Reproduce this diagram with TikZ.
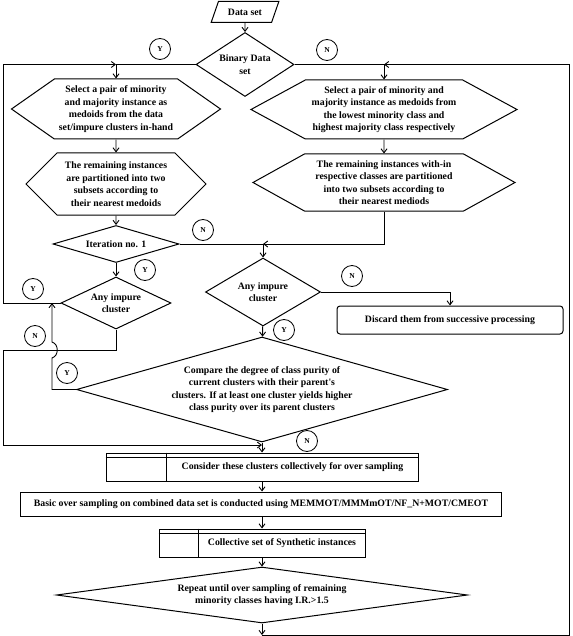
\documentclass[tikz,border=0pt]{standalone}
\usepackage{fontspec}
\setmainfont{Liberation Serif}
\usetikzlibrary{shapes.geometric, shapes.symbols, arrows.meta}
\newcommand{\flowfont}{\fontsize{9.8}{12.5}\selectfont\bfseries}
\tikzstyle{process} = [
    rectangle,
    draw=black,
    line width=1pt,
    inner sep=2pt,
    align=center,
    font=\flowfont
]
\tikzstyle{decision} = [
    diamond,
    draw=black,
    line width=1pt,
    inner sep=0pt,
    align=center,
    font=\flowfont
]
\tikzstyle{hexa} = [
    signal,
    signal to=west and east,
    draw=black,
    line width=1pt,
    inner sep=1pt,
    align=center,
    font=\flowfont
]
\tikzstyle{io} = [
    trapezium,
    trapezium left angle=67,
    trapezium right angle=113,
    trapezium stretches=true,
    draw=black,
    line width=1pt,
    font=\flowfont
]
\tikzstyle{tag} = [
    circle,
    draw=black,
    line width=0.8pt,
    inner sep=0pt,
    minimum size=21pt,
    font=\fontsize{7.5}{8}\selectfont\bfseries
]
\tikzstyle{line} = [draw=black, line width=0.9pt]
\tikzstyle{arrow} = [line, -{Straight Barb[length=4pt,width=6pt]}]

\begin{document}
\begin{tikzpicture}[x=1pt, y=-1pt]
    \useasboundingbox (0,0) rectangle (572,636);
    % start and first decision
    \node[io, minimum width=68pt, minimum height=21pt] (data) at (245,12) {Data set};
    \node[decision, shape aspect=1.53, minimum width=98pt, minimum height=64pt] (binary) at (245,64.5) {Binary Data\\set};
    \node[tag] (ybin) at (160,49) {Y};
    \node[tag] (nbin) at (327,50) {N};

    % two branches of hexagons
    \node[hexa, signal pointer angle=70, minimum width=209pt, minimum height=60pt] (lhexa) at (116,109)
        {Select a pair of minority\\and majority instance as\\medoids from the data\\set/impure clusters in-hand};
    \node[hexa, signal pointer angle=90, minimum width=180pt, minimum height=62pt] (lhexb) at (116,184)
        {The remaining instances\\are partitioned into two\\subsets according to\\their nearest medoids};
    \node[hexa, signal pointer angle=57, minimum width=266pt, minimum height=59pt] (rhexa) at (384,109.5)
        {Select a pair of minority and\\majority instance as medoids from\\the lowest minority class and\\highest majority class respectively};
    \node[hexa, signal pointer angle=58, minimum width=262pt, minimum height=57pt] (rhexb) at (384,182.5)
        {The remaining instances with-in\\respective classes are partitioned\\into two subsets according to\\their nearest mediods};

    % iteration and impurity checks
    \node[decision, shape aspect=3.4, minimum width=126pt, minimum height=37pt] (iter) at (116,244) {Iteration no. 1};
    \node[tag] (yiter) at (145,270) {Y};
    \node[tag] (niter) at (203,230) {N};
    \node[decision, shape aspect=2.1, minimum width=110pt, minimum height=52pt] (limp) at (116,303) {Any impure\\cluster};
    \node[tag] (ylimp) at (33,289) {Y};
    \node[tag] (nlimp) at (35,336) {N};
    \node[decision, shape aspect=1.7, minimum width=115pt, minimum height=68pt] (rimp) at (263,292) {Any impure\\cluster};
    \node[tag] (nrimp) at (352,276) {N};
    \node[tag] (yrimp) at (284,330) {Y};
    \node[process, rounded corners=3pt, minimum width=226pt, minimum height=28pt] (discard) at (450,320)
        {Discard them from successive processing};

    % purity comparison
    \node[decision, shape aspect=3.53, minimum width=371pt, minimum height=105pt] (cmp) at (262,389.5)
        {Compare the degree of class purity of\\current clusters with their parent\textquotesingle s\\clusters. If at least one cluster yields higher\\class purity over its parent clusters};
    \node[tag] (ycmp) at (67,373) {Y};
    \node[tag] (ncmp) at (307,441) {N};

    % over sampling
    \node[process, minimum width=312pt, minimum height=28pt] (cons) at (262,467)
        {\hspace*{61pt}Consider these clusters collectively for over sampling};
    \draw[line] ([yshift=-5pt]cons.north west) -- ([yshift=-5pt]cons.north east);
    \draw[line] ([xshift=61pt]cons.north west) -- ([xshift=61pt]cons.south west);
    \node[process, minimum width=481pt, minimum height=24pt] (basic) at (261,504)
        {Basic over sampling on combined data set is conducted using MEMMOT/MMMmOT/NF\_N+MOT/CMEOT};
    \node[process, minimum width=206pt, minimum height=28pt] (coll) at (262,543)
        {\hspace*{40pt}Collective set of Synthetic instances};
    \draw[line] ([yshift=-5pt]coll.north west) -- ([yshift=-5pt]coll.north east);
    \draw[line] ([xshift=40pt]coll.north west) -- ([xshift=40pt]coll.south west);
    \node[decision, shape aspect=7.3, minimum width=411pt, minimum height=56pt] (rep) at (262,595)
        {Repeat until over sampling of remaining\\minority classes having I.R.>1.5};

    % junctions
    \coordinate (jl) at (116,64.5);
    \coordinate (jr) at (384,64.5);
    \coordinate (jm) at (263,244);
    \coordinate (jb) at (262,445);
    \coordinate (jy) at (52,303);
    \coordinate (rb) at (262,635);

    % connectors
    \draw[arrow] (data) -- (binary);
    \draw[line] (binary.west) -- (jl);
    \draw[line] (binary.east) -- (jr);
    \draw[arrow] (jl) -- (lhexa.north);
    \draw[arrow] (jr) -- (rhexa.north);
    \draw[arrow] (lhexa) -- (lhexb);
    \draw[arrow] (rhexa) -- (rhexb);
    \draw[arrow] (lhexb) -- (iter);
    \draw[line] (iter.east) -- (jm);
    \draw[arrow] (rhexb.south) |- (jm);
    \draw[arrow] (jm) -- (rimp.north);
    \draw[arrow] (iter) -- (limp);
    \draw[arrow] (limp.west) -| (3,64.5) -- (jl);
    \draw[arrow] (limp.south) -- (116,350) -| (3,445) -- (jb);
    \draw[arrow] (cmp.west) -| (52,358) .. controls (59,356) and (59,344) .. (52,342) -- (jy);
    \draw[arrow] (rimp.east) -| (discard.north);
    \draw[arrow] (rimp) -- (cmp);
    \draw[arrow] (cmp) -- (cons);
    \draw[arrow] (cons) -- (cons.south |- basic.north);
    \draw[arrow] (basic.south -| coll.north) -- (coll);
    \draw[arrow] (coll) -- (rep);
    \draw[arrow] (rep.south) -- (rb);
    \draw[arrow] (rb) -| (569,64.5) -- (jr);
\end{tikzpicture}
\end{document}
